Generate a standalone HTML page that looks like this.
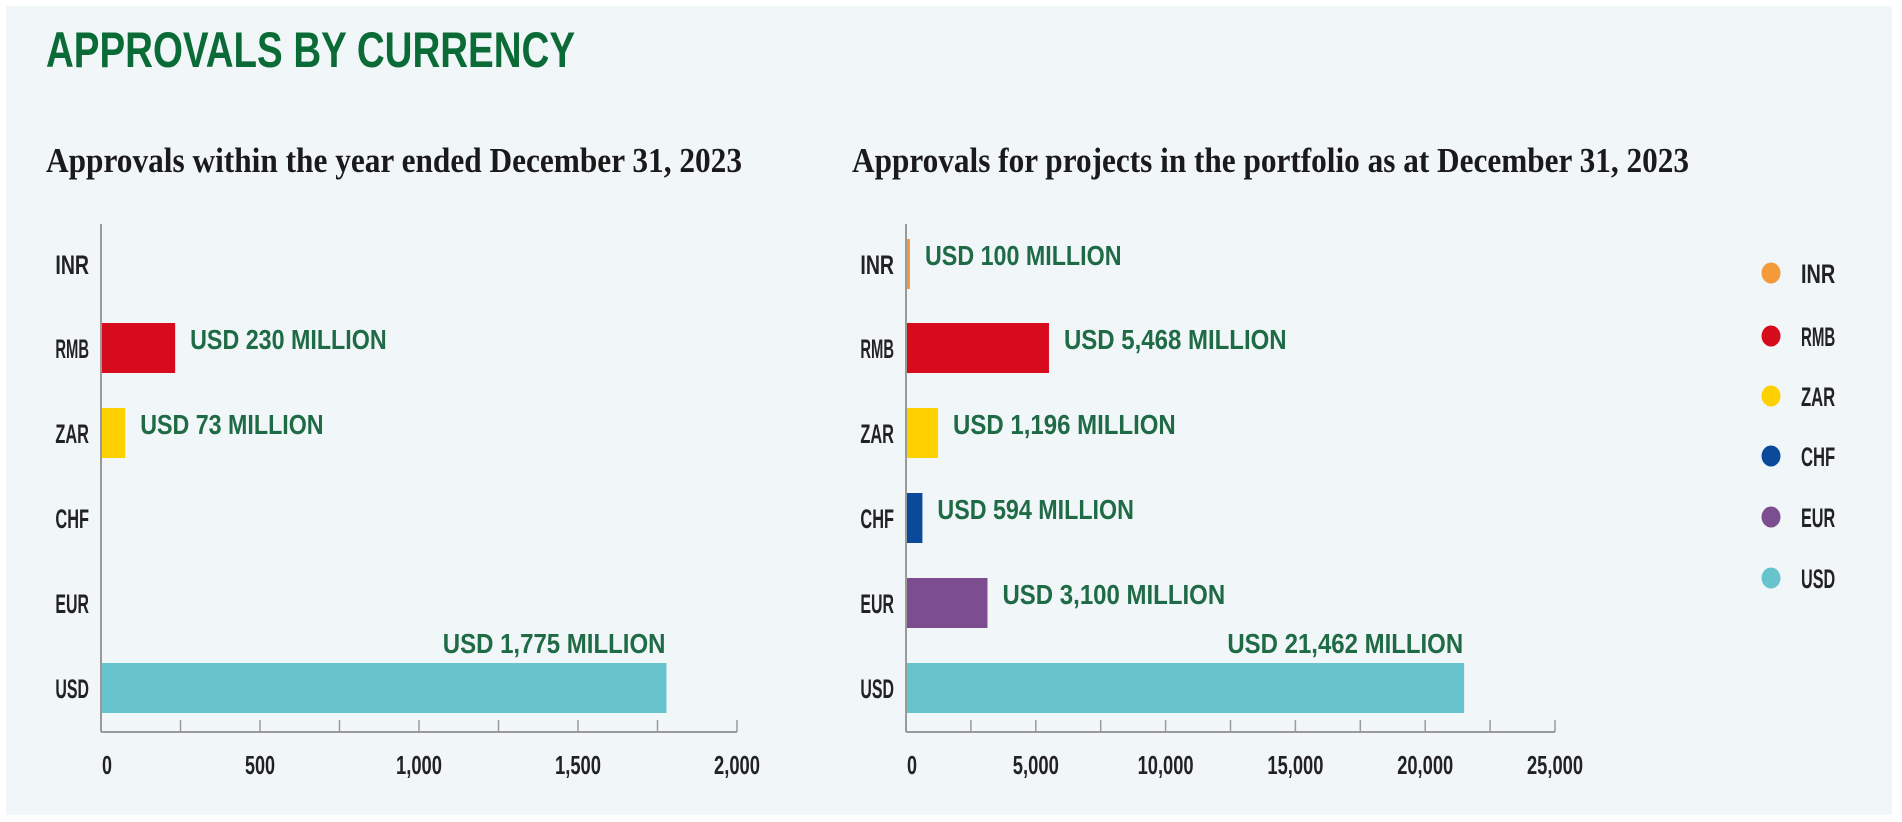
<!DOCTYPE html>
<html><head><meta charset="utf-8">
<style>
html,body{margin:0;padding:0;background:#fff;width:1902px;height:822px;overflow:hidden}
svg{display:block}
</style></head>
<body>
<svg id="chart" width="1902" height="822" xmlns="http://www.w3.org/2000/svg">
<rect x="6" y="6" width="1886" height="809" fill="#f1f6f9"/>
<text x="46" y="67" font-family="Liberation Sans, sans-serif" font-weight="bold" font-size="50" fill="#0b6b36" textLength="529" lengthAdjust="spacingAndGlyphs">APPROVALS BY CURRENCY</text>
<text x="46" y="172" font-family="Liberation Serif, serif" font-weight="bold" font-size="35" fill="#1a1a1a" textLength="696" lengthAdjust="spacingAndGlyphs">Approvals within the year ended December 31, 2023</text>
<text x="852" y="172" font-family="Liberation Serif, serif" font-weight="bold" font-size="35" fill="#1a1a1a" textLength="837" lengthAdjust="spacingAndGlyphs">Approvals for projects in the portfolio as at December 31, 2023</text>
</svg>
<script>
const categories = ["INR","RMB","ZAR","CHF","EUR","USD"];
const colors = ["#f49a3a","#d60b1c","#ffd000","#0b4a9b","#7c4e8f","#67c3cc"];
const leftValues = [0,230,73,0,0,1775];
const rightValues = [100,5468,1196,594,3100,21462];
const leftTicks = [0,500,1000,1500,2000];
const rightTicks = [0,5000,10000,15000,20000,25000];
const leftTickLabels = ["0","500","1,000","1,500","2,000"];
const rightTickLabels = ["0","5,000","10,000","15,000","20,000","25,000"];

const NS = "http://www.w3.org/2000/svg";
const svg = document.getElementById("chart");
const rowCenters = [264,348,433,518,603,688];
const barH = 50;
function yBand(i){ return rowCenters[i]; }
function fmt(v){ return v.toString().replace(/\B(?=(\d{3})+(?!\d))/g, ","); }
function mk(tag, attrs){ const e=document.createElementNS(NS,tag); for(const k in attrs) e.setAttribute(k,attrs[k]); svg.appendChild(e); return e; }

function drawChart(prefix, x0, x1, maxV, values, ticks, tickLabels, minorStep){
  const xs = v => x0 + v/maxV*(x1-x0);
  let e = mk("line",{x1:x0,y1:224,x2:x0,y2:732,stroke:"#9a9a9a","stroke-width":2});
  
  
  e = mk("line",{x1:x0,y1:732,x2:x1,y2:732,stroke:"#9a9a9a","stroke-width":2});
  
  
  for(let v=0; v<=maxV+1e-6; v+=minorStep){
    e = mk("line",{x1:xs(v),y1:720,x2:xs(v),y2:732,stroke:"#9a9a9a","stroke-width":1.5});
    
    
  }
  ticks.forEach((t,i)=>{
    const lbl = tickLabels[i];
    e = mk("text",{x:xs(t)+(i===0?6:0),y:774,"text-anchor":"middle","font-family":"Liberation Sans, sans-serif","font-weight":"bold","font-size":26,fill:"#222",textLength:lbl.length*10+ (lbl.indexOf(',')>=0?-4:0),lengthAdjust:"spacingAndGlyphs"});
    e.textContent = lbl;
    
    
  });
  categories.forEach((c,i)=>{
    const cy = yBand(i);
    e = mk("text",{x:x0-12,y:cy+10,"text-anchor":"end","font-family":"Liberation Sans, sans-serif","font-weight":"bold","font-size":27,fill:"#222",textLength:c.length*11.2,lengthAdjust:"spacingAndGlyphs"});
    e.textContent = c;
    
    
    const v = values[i];
    if(v>0){
      const w = Math.max(xs(v)-x0, 3);
      e = mk("rect",{x:x0+1,y:cy-barH/2,width:w,height:barH,fill:colors[i]});
      
      
      const txt = "USD "+fmt(v)+" MILLION";
      const tl = txt.length*13.1;
      let lx, ly, anchor="start";
      if(i===categories.length-1){ lx = xs(v); ly = cy-35; anchor="end"; }
      else { lx = x0+w+16; ly = cy+1; }
      e = mk("text",{x:lx,y:ly,"text-anchor":anchor,"font-family":"Liberation Sans, sans-serif","font-weight":"bold","font-size":28,fill:"#1f6b45",textLength:tl,lengthAdjust:"spacingAndGlyphs"});
      e.textContent = txt;
      
      
    }
  });
}
drawChart("left", 101, 737, 2000, leftValues, leftTicks, leftTickLabels, 250);
drawChart("right", 906, 1555, 25000, rightValues, rightTicks, rightTickLabels, 2500);

const legendY = [273,336,396,456,517,578];
categories.forEach((c,i)=>{
  let e = mk("ellipse",{cx:1771,cy:legendY[i],rx:9.5,ry:10.5,fill:colors[i]});
  
  
  e = mk("text",{x:1801,y:legendY[i]+10,"font-family":"Liberation Sans, sans-serif","font-weight":"bold","font-size":27,fill:"#222",textLength:c.length*11.4,lengthAdjust:"spacingAndGlyphs"});
  e.textContent = c;
  
  
});
</script>
</body></html>
